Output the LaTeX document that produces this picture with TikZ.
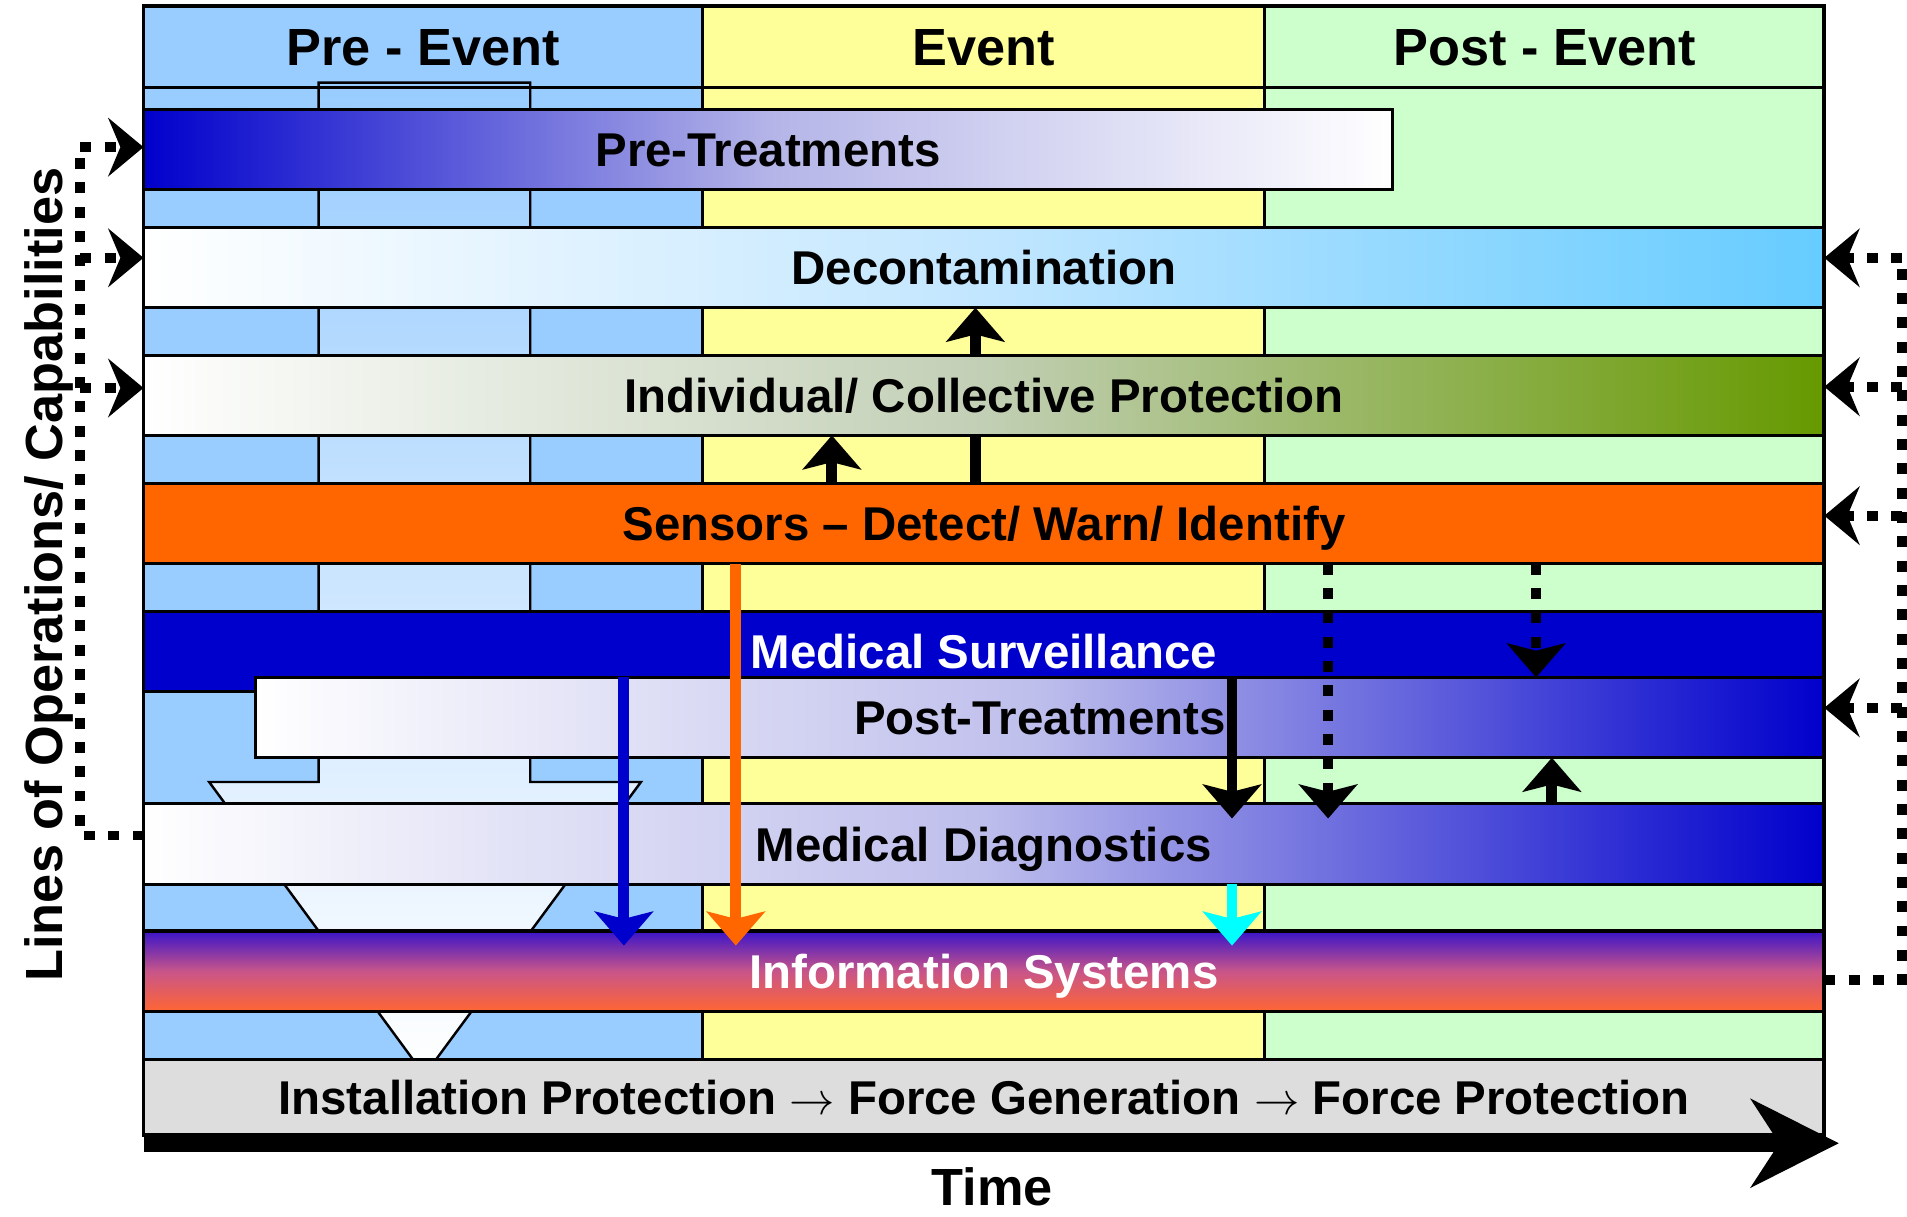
\documentclass[tikz,border=0pt]{standalone}
\usepackage{fontspec}
\setmainfont{Liberation Sans}
\usetikzlibrary{arrows.meta}
\pgfdeclarelayer{bg}
\pgfdeclarelayer{mid}
\pgfsetlayers{bg,mid,main}
\definecolor{preblue}{HTML}{99CCFF}
\definecolor{evyellow}{HTML}{FFFF99}
\definecolor{postgreen}{HTML}{CCFFCC}
\definecolor{dblue}{HTML}{0000CC}
\definecolor{skyb}{HTML}{66CCFF}
\definecolor{skymid}{HTML}{C2E6FF}
\definecolor{olivegr}{HTML}{669900}
\definecolor{olivemid}{HTML}{C2CFB5}
\definecolor{lavmid}{HTML}{B4B4E8}
\definecolor{lavmidb}{HTML}{BEBEEC}
\definecolor{sensorc}{HTML}{FF6600}
\definecolor{isTop}{HTML}{3A14C8}
\definecolor{isMid}{HTML}{C8558A}
\definecolor{isBot}{HTML}{FF6633}
\definecolor{graybar}{HTML}{DDDDDD}
\definecolor{cyanarr}{HTML}{00FFFF}
\newcommand{\thinarrow}{\scalebox{1.5}{$\rightarrow$}}
\begin{document}
\begin{tikzpicture}[x=1pt,y=-1pt,
  band/.style={draw=black, line width=2.5pt, rectangle, inner sep=0pt, outer sep=0pt,
    minimum width=1382pt, minimum height=66pt, text height=28pt, text depth=0pt,
    font=\fontsize{39}{39}\selectfont\bfseries},
  hdr/.style={font=\fontsize{43}{43}\selectfont\bfseries, text height=31pt, text depth=0pt, inner sep=0pt},
  solidarr/.style={line width=9pt, -{Stealth[length=28pt,width=48pt,inset=6pt]}},
  dotarr/.style={line width=8pt, dash pattern=on 9pt off 11pt, -{Stealth[length=28pt,width=48pt,inset=6pt]}},
  dotline/.style={line width=8pt, dash pattern=on 9pt off 11pt},
  dotarrh/.style={line width=8pt, dash pattern=on 9pt off 11pt, -{Stealth[length=29pt,width=48pt,inset=10pt]}}
]
\useasboundingbox (0,0) rectangle (1568,1000);

% ---------- background columns, funnel ----------
\begin{pgfonlayer}{bg}
  \fill[preblue] (118,5) rectangle (578,933);
  \fill[evyellow] (578,5) rectangle (1040,933);
  \fill[postgreen] (1040,5) rectangle (1500,933);
  \draw[line width=2pt, top color=preblue, bottom color=white]
    (262,68) -- (436,68) -- (436,643) -- (527,643) -- (349,884) -- (172,643) -- (262,643) -- cycle;
  \draw[line width=2.5pt] (578,5) -- (578,933);
  \draw[line width=2.5pt] (1040,5) -- (1040,933);
  \draw[line width=2.5pt] (118,72) -- (1500,72);
\end{pgfonlayer}

% ---------- header ----------
\node[hdr] (hpre) at (348,38.5) {Pre - Event};
\node[hdr] (hev) at (809,38.5) {Event};
\node[hdr] (hpost) at (1270,38.5) {Post - Event};

% ---------- bands ----------
\node[band, minimum width=1027pt, left color=dblue, right color=white, middle color=lavmid] (pretreat) at (631.5,123) {Pre-Treatments};
\node[band, left color=white, right color=skyb, middle color=skymid] (decon) at (809,220) {Decontamination};
\node[band, left color=white, right color=olivegr, middle color=olivemid] (indiv) at (809,325) {Individual/ Collective Protection};
\node[band, fill=sensorc] (sensors) at (809,430.5) {Sensors – Detect/ Warn/ Identify};
\node[band, fill=dblue, text=white] (medsurv) at (809,535.5) {Medical Surveillance};
\node[band, minimum width=1290pt, left color=white, right color=dblue, middle color=lavmidb] (posttreat) at (855,590) {Post-Treatments};
\node[band, left color=white, right color=dblue, middle color=lavmidb] (meddiag) at (809,694) {Medical Diagnostics};
\node[band, top color=isTop, bottom color=isBot, middle color=isMid, text=white] (infosys) at (809,798.5) {Information Systems};
\node[band, fill=graybar, minimum height=62pt] (install) at (809,902) {Installation Protection \thinarrow{} Force Generation \thinarrow{} Force Protection};

% ---------- column x positions of arrows ----------
\coordinate (xa) at (802,0);
\coordinate (xb) at (684,0);
\coordinate (xc) at (605,0);
\coordinate (xd) at (513,0);
\coordinate (xe) at (1013,0);
\coordinate (xf) at (1092,0);
\coordinate (xg) at (1263,0);
\coordinate (xh) at (1276,0);

\begin{pgfonlayer}{mid}
  \draw[solidarr] (sensors.north -| xa) -- (decon.south -| xa);
\end{pgfonlayer}

\draw[solidarr] (sensors.north -| xb) -- (indiv.south -| xb);
\draw[solidarr, sensorc, shorten >=-12pt] (sensors.south -| xc) -- (infosys.north -| xc);
\draw[solidarr, dblue, shorten >=-12pt] (posttreat.north -| xd) -- (infosys.north -| xd);
\draw[solidarr, shorten >=-12pt] (posttreat.north -| xe) -- (meddiag.north -| xe);
\draw[solidarr, cyanarr, shorten >=-12pt] (meddiag.south -| xe) -- (infosys.north -| xe);
\draw[dotarr, shorten >=-12pt] (sensors.south -| xf) -- (meddiag.north -| xf);
\draw[dotarr] (sensors.south -| xg) -- (posttreat.north -| xg);
\draw[solidarr] (meddiag.north -| xh) -- (posttreat.south -| xh);

% ---------- frame ----------
\draw[line width=3pt] (118,5) rectangle (1500,933);

% ---------- left feedback ----------
\coordinate (L0) at (66,687);
\coordinate (L1) at (66,121);
\coordinate (L2) at (66,212);
\coordinate (L3) at (66,319);
\draw[dotline] (meddiag.west |- L0) -- (L0) -- (L1);
\draw[dotarrh] (L1) -- (pretreat.west |- L1);
\draw[dotarrh] (L2) -- (decon.west |- L2);
\draw[dotarrh] (L3) -- (indiv.west |- L3);

% ---------- right feedback ----------
\coordinate (R0) at (1564,806);
\coordinate (R1) at (1564,212);
\coordinate (R2) at (1564,318);
\coordinate (R3) at (1564,424);
\coordinate (R4) at (1564,582);
\draw[dotline] (infosys.east |- R0) -- (R0) -- (R1);
\draw[dotarrh] (R1) -- (decon.east |- R1);
\draw[dotarrh] (R2) -- (indiv.east |- R2);
\draw[dotarrh] (R3) -- (sensors.east |- R3);
\draw[dotarrh] (R4) -- (posttreat.east |- R4);

% ---------- time axis ----------
\coordinate (tstart) at (118,940);
\coordinate (tend) at (1512,940);
\draw[line width=14pt, -{Stealth[length=72pt,width=72pt,inset=23pt]}] (tstart) -- (tend);
\node[hdr] (time) at (816,976) {Time};
\node[hdr, rotate=90, anchor=base] (loc) at (51,472.5) {Lines of Operations/ Capabilities};
\end{tikzpicture}
\end{document}
